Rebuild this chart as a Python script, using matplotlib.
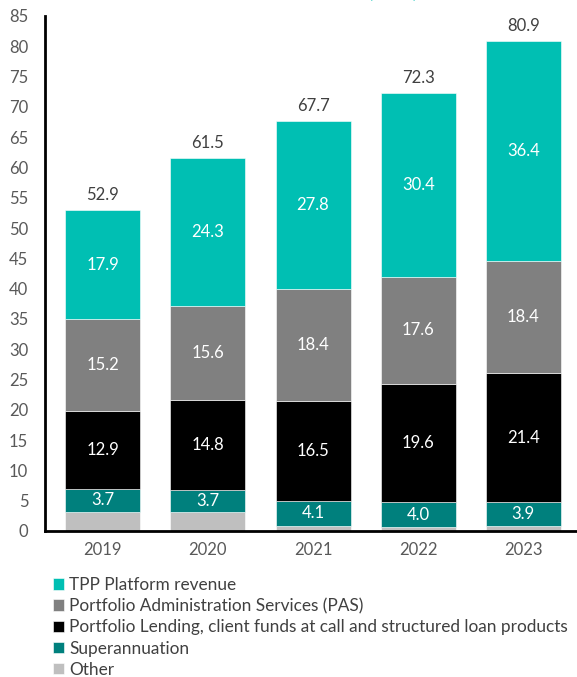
import numpy as np
import matplotlib.pyplot as plt

plt.rcParams['font.family'] = ['Lato', 'DejaVu Sans']

# data
years = ['2019', '2020', '2021', '2022', '2023']
other = [3.2, 3.1, 0.9, 0.7, 0.8]
superannuation = [3.7, 3.7, 4.1, 4.0, 3.9]
lending = [12.9, 14.8, 16.5, 19.6, 21.4]
pas = [15.2, 15.6, 18.4, 17.6, 18.4]
tpp = [17.9, 24.3, 27.8, 30.4, 36.4]
totals = [52.9, 61.5, 67.7, 72.3, 80.9]

series = [
    ('Other', other, '#BFBFBF', False),
    ('Superannuation', superannuation, '#00807D', True),
    ('Portfolio Lending, client funds at call and structured loan products', lending, '#000000', True),
    ('Portfolio Administration Services (PAS)', pas, '#808080', True),
    ('TPP Platform revenue', tpp, '#00BFB3', True),
]

fig = plt.figure(figsize=(5.77, 6.77), dpi=100)
ax = fig.add_axes([0.078, 0.2157, 0.92, 0.7607])

x = np.arange(len(years))
bottom = np.zeros(len(years))
handles = []
for name, vals, col, show in series:
    b = ax.bar(x, vals, 0.714, bottom=bottom, color=col, label=name,
               edgecolor='white', linewidth=0.4)
    handles.append(b)
    if show:
        for xi, v, b0 in zip(x, vals, bottom):
            ax.text(xi, b0 + v / 2, f'{v:.1f}', ha='center', va='center',
                    color='white', fontsize=12)
    bottom += np.array(vals)

for xi, t in zip(x, totals):
    ax.text(xi, t + 1.2, f'{t:.1f}', ha='center', va='bottom',
            color='#404040', fontsize=12)

ax.set_xlim(-0.55, 4.5)
ax.set_ylim(0, 85)
ax.set_yticks(range(0, 86, 5))
ax.set_xticks(x)
ax.set_xticklabels(years)
ax.tick_params(axis='both', length=0, labelsize=12, colors='#595959')
ax.tick_params(axis='y', pad=12)
ax.tick_params(axis='x', pad=8)
for s in ['top', 'right']:
    ax.spines[s].set_visible(False)
for s in ['left', 'bottom']:
    ax.spines[s].set_linewidth(2)
    ax.spines[s].set_color('black')

leg = fig.legend(handles[::-1], [h.get_label() for h in handles[::-1]],
                 loc='upper left', bbox_to_anchor=(0.08, 0.158), frameon=False,
                 fontsize=12.4, handlelength=0.65, handleheight=0.65,
                 handletextpad=0.3, labelspacing=0.3, borderaxespad=0)
for t in leg.get_texts():
    t.set_color('#404040')

# clipped heading at the top of the original slide
fig.text(0.68, 1.013, '(A$m)', color='#00BFB3', fontsize=14, ha='center', va='center')

fig.savefig('out.png', dpi=100)
